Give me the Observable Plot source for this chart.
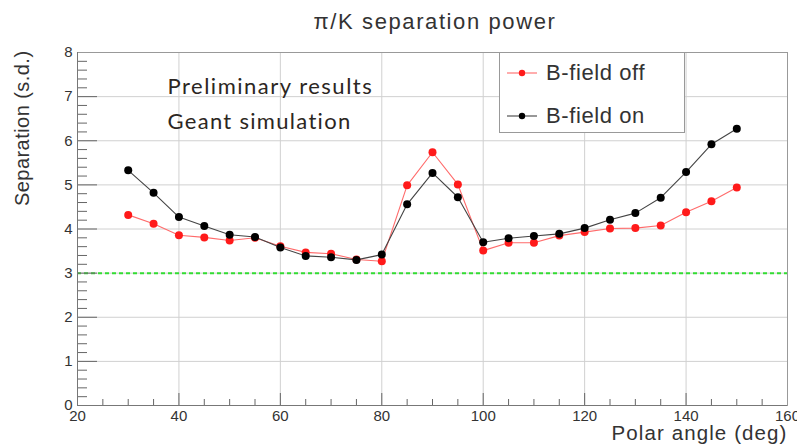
<!DOCTYPE html>
<html>
<head>
<meta charset="utf-8">
<script src="https://cdn.jsdelivr.net/npm/d3@7"></script>
<script src="https://cdn.jsdelivr.net/npm/@observablehq/plot@0.6"></script>
<style>
  body { margin: 0; background: #fff; }
  #wrap { position: relative; width: 797px; height: 445px; overflow: hidden; font-family: "Liberation Sans", Arial, sans-serif; background: #fff; }
  #title { position: relative; height: 40px; }
  #title span { position: absolute; left: 0; width: 870px; top: 11px; text-align: center; font-size: 22px; line-height: 22px; color: #333; letter-spacing: 1.6px; white-space: nowrap; }
  #chart svg { display: block; }
  #legend { position: absolute; left: 499px; top: 52px; width: 186px; height: 81px; border: 1px solid #999; background: #fff; box-sizing: border-box; }
  #legend .row { position: absolute; left: 0; height: 30px; line-height: 30px; width: 100%; }
  #legend svg { position: absolute; left: 6px; top: 0; }
  #legend .lab { position: absolute; left: 46px; top: 0; font-size: 22px; color: #333; letter-spacing: 0.6px; white-space: nowrap; }
</style>
</head>
<body>
<div id="wrap">
  <div id="title"><span>π/K separation power</span></div>
  <div id="chart"></div>
  <div id="legend"></div>
</div>
<script>
// ---- data ----
const angles    = [30, 35, 40, 45, 50, 55, 60, 65, 70, 75, 80, 85, 90, 95, 100, 105, 110, 115, 120, 125, 130, 135, 140, 145, 150];
const bFieldOff = [4.32, 4.12, 3.86, 3.81, 3.74, 3.80, 3.61, 3.47, 3.44, 3.31, 3.27, 4.99, 5.74, 5.01, 3.51, 3.69, 3.69, 3.85, 3.93, 4.01, 4.02, 4.08, 4.38, 4.63, 4.94];
const bFieldOn  = [5.33, 4.82, 4.27, 4.07, 3.87, 3.82, 3.58, 3.39, 3.36, 3.30, 3.42, 4.56, 5.27, 4.72, 3.70, 3.79, 3.84, 3.89, 4.02, 4.21, 4.36, 4.71, 5.29, 5.92, 6.27];
const threshold = [3];
const xTicks = [20, 40, 60, 80, 100, 120, 140, 160];
const yTicks = [0, 1, 2, 3, 4, 5, 6, 7, 8];
const xMinorTicks = [25, 30, 35, 45, 50, 55, 65, 70, 75, 85, 90, 95, 105, 110, 115, 125, 130, 135, 145, 150, 155];
const yMinorTicks = d3.range(0, 8.001, 0.2).map(v => +v.toFixed(1)).filter(v => !yTicks.includes(v));
const seriesNames = ["B-field off", "B-field on"];
const seriesColors = { "B-field off": "#ff1a1a", "B-field on": "#000000" };
const lineColors = { "B-field off": "#ff6b6b", "B-field on": "#444444" };
const annotation = ["Preliminary results", "Geant simulation"];
const xLabel = "Polar angle (deg)";
const yLabel = "Separation (s.d.)";

const offData = angles.map((a, i) => ({ angle: a, value: bFieldOff[i], series: seriesNames[0] }));
const onData  = angles.map((a, i) => ({ angle: a, value: bFieldOn[i],  series: seriesNames[1] }));

const W = 797, H = 405, mt = 12, mb = 40, ml = 77, mr = 10;
const fw = W - ml - mr, fh = H - mt - mb;
const font = "'Liberation Sans', Arial, sans-serif";
const annFont = "Lato, 'Open Sans', sans-serif";

const chart = Plot.plot({
  width: W, height: H,
  marginTop: mt, marginBottom: mb, marginLeft: ml, marginRight: mr,
  x: { domain: [20, 160] },
  y: { domain: [0, 8] },
  style: { fontFamily: font, background: "#fff", color: "#333", overflow: "visible" },
  marks: [
    Plot.gridX(xTicks, { stroke: "#d0d0d0", strokeOpacity: 1 }),
    Plot.gridY(yTicks, { stroke: "#d0d0d0", strokeOpacity: 1 }),
    Plot.ruleY(threshold, { stroke: "#33dd33", strokeWidth: 2, strokeDasharray: "4,3" }),
    Plot.tickX(xMinorTicks, { x: d => d, insetTop: fh - 6, stroke: "#666" }),
    Plot.tickX(xTicks, { x: d => d, insetTop: fh - 12, stroke: "#666" }),
    Plot.tickY(yMinorTicks, { y: d => d, insetRight: fw - 10, stroke: "#666" }),
    Plot.tickY(yTicks, { y: d => d, insetRight: fw - 20, stroke: "#666" }),
    Plot.axisX(xTicks, { tickSize: 0, tickPadding: 5, label: null, fontSize: 15, fill: "#333" }),
    Plot.axisY(yTicks, { tickSize: 0, tickPadding: 5, label: null, fontSize: 15, fill: "#333" }),
    Plot.frame({ stroke: "#999" }),
    Plot.ruleX([20], { stroke: "#777" }),
    Plot.ruleY([0], { stroke: "#777" }),
    Plot.lineY(offData, { x: "angle", y: "value", stroke: lineColors[seriesNames[0]], strokeWidth: 1.1 }),
    Plot.dot(offData, { x: "angle", y: "value", r: 4, fill: seriesColors[seriesNames[0]], stroke: "none" }),
    Plot.lineY(onData, { x: "angle", y: "value", stroke: lineColors[seriesNames[1]], strokeWidth: 1.1 }),
    Plot.dot(onData, { x: "angle", y: "value", r: 4, fill: seriesColors[seriesNames[1]], stroke: "none" }),
    Plot.text([xLabel], { frameAnchor: "bottom-right", dy: 34, textAnchor: "end", lineAnchor: "bottom", fontSize: 20.5, fill: "#333" }),
    Plot.text([yLabel], { frameAnchor: "top-left", dx: -55, dy: -2, rotate: -90, textAnchor: "end", lineAnchor: "middle", fontSize: 20, fill: "#333" }),
    Plot.text([annotation[0]], { frameAnchor: "top-left", dx: 90, dy: 41, textAnchor: "start", lineAnchor: "bottom", fontSize: 22, fontFamily: annFont, fill: "#2b2622" }),
    Plot.text([annotation[1]], { frameAnchor: "top-left", dx: 90, dy: 76, textAnchor: "start", lineAnchor: "bottom", fontSize: 22, fontFamily: annFont, fill: "#2b2622" })
  ]
});
document.getElementById("chart").appendChild(chart);

// the reference's lettering is slightly stretched horizontally: widen with letter-spacing
const spacing = new Map([[xLabel, "1.1px"], [yLabel, "0.45px"], [annotation[0], "1.5px"], [annotation[1], "1.3px"]]);
d3.select(chart).selectAll("text").each(function () {
  const t = this.textContent;
  if (spacing.has(t)) this.style.letterSpacing = spacing.get(t);
});

// legend
const legend = document.getElementById("legend");
const rowCenters = [20, 63];
seriesNames.forEach((name, i) => {
  const row = document.createElement("div");
  row.className = "row";
  row.style.top = (rowCenters[i] - 15) + "px";
  row.innerHTML =
    `<svg width="34" height="30"><line x1="1" y1="15" x2="31" y2="15" stroke="${lineColors[name]}" stroke-width="1.1"/>` +
    `<circle cx="16" cy="15" r="3.2" fill="${seriesColors[name]}"/></svg>` +
    `<span class="lab">${name}</span>`;
  legend.appendChild(row);
});
</script>
</body>
</html>
